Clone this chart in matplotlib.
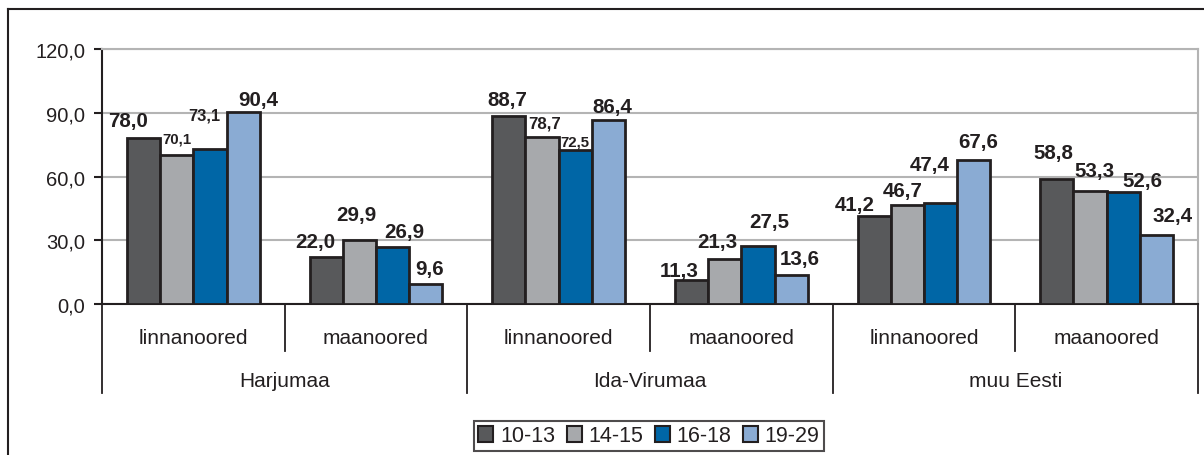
import matplotlib
matplotlib.use("Agg")
import matplotlib.pyplot as plt
from matplotlib.patches import Patch
from matplotlib.lines import Line2D
import matplotlib.transforms as mtransforms

plt.rcParams['font.family'] = ['Liberation Sans', 'DejaVu Sans']

# ---- data ----
regions = ["Harjumaa", "Ida-Virumaa", "muu Eesti"]
subgroups = ["linnanoored", "maanoored"]
series_names = ["10-13", "14-15", "16-18", "19-29"]
s_10_13 = [78.0, 22.0, 88.7, 11.3, 41.2, 58.8]
s_14_15 = [70.1, 29.9, 78.7, 21.3, 46.7, 53.3]
s_16_18 = [73.1, 26.9, 72.5, 27.5, 47.4, 52.6]
s_19_29 = [90.4, 9.6, 86.4, 13.6, 67.6, 32.4]
series = [s_10_13, s_14_15, s_16_18, s_19_29]
yticks = [0, 30, 60, 90, 120]

# ---- styling ----
colors = ["#58595b", "#a7a9ac", "#0066a6", "#8aabd3"]
edge = "#231f20"
# label offsets (pixels) relative to bar top centre, per group x series
label_dx = [[-15, 0, -6, 15], [-11, -3, 12, 3.5], [-1, 3, 0, 4],
            [-12, -7, 11.5, 9], [-19, -5, -11, 4], [-3, 4.5, 19, 16]]
label_dy = [[12, 13, 29, 7], [10, 20, 10, 9.6], [10.5, 9, 4, 8.5],
            [4, 12, 18.6, 11], [6, 9, 33, 13], [21, 15, 6, 14]]
big = 14.8
label_fs = [[big, 10.8, 11.8, big], [big] * 4, [big, 12.2, 10.8, big],
            [big] * 4, [big] * 4, [big] * 4]

W, H = 1204, 456
fig = plt.figure(figsize=(W / 100, H / 100), dpi=100)
L, R, T, B = 102, 1198, 50, 305
ax = fig.add_axes([L / W, 1 - B / H, (R - L) / W, (B - T) / H])

n = len(s_10_13)
bw = 0.182
for j, vals in enumerate(series):
    xs = [g + (j - 1.5) * bw for g in range(n)]
    ax.bar(xs, vals, width=bw, color=colors[j], edgecolor=edge,
           linewidth=2, zorder=3)
    for g in range(n):
        ax.annotate(f"{vals[g]:.1f}".replace(".", ","),
                    xy=(xs[g], vals[g]),
                    xytext=(label_dx[g][j], label_dy[g][j]),
                    textcoords="offset pixels", ha="center", va="baseline",
                    fontsize=label_fs[g][j], fontweight="bold",
                    color="#231f20", zorder=5)

ax.set_xlim(-0.5, n - 0.5)
ax.set_ylim(0, 120)
ax.set_yticks(yticks)
ax.set_yticklabels([f"{v:.1f}".replace(".", ",") for v in yticks],
                   fontsize=14.5, color="#231f20")
ax.tick_params(axis="y", length=6, width=1.5, color="#231f20", pad=6)
ax.set_xticks([])
ax.yaxis.grid(True, color="#b4b4b4", linewidth=1.5, zorder=0)
ax.set_axisbelow(True)
for s in ["top", "right"]:
    ax.spines[s].set_color("#b4b4b4")
    ax.spines[s].set_linewidth(1.5)
for s in ["left", "bottom"]:
    ax.spines[s].set_color("#231f20")
    ax.spines[s].set_linewidth(1.5)

# two-level category axis
trans = mtransforms.blended_transform_factory(ax.transData, ax.transAxes)
ah = B - T
inner_y = -(352 - B) / ah
outer_y = -(394 - B) / ah
for k in range(n + 1):
    x = k - 0.5
    yb = outer_y if k % 2 == 0 else inner_y
    ax.add_line(Line2D([x, x], [0, yb], transform=trans, color="#231f20",
                       linewidth=1.3, clip_on=False))
for g in range(n):
    ax.text(g, -(339 - B) / ah, subgroups[g % 2], transform=trans,
            ha="center", va="center", fontsize=15, color="#231f20")
for r, name in enumerate(regions):
    ax.text(2 * r + 0.5, -(382 - B) / ah, name, transform=trans,
            ha="center", va="center", fontsize=15, color="#231f20")

# outer chart frame
fig.add_artist(Line2D([8 / W, 8 / W], [1 - 10 / H, 0], transform=fig.transFigure,
                      color="#231f20", linewidth=1.5))
fig.add_artist(Line2D([8 / W, 1], [1 - 10 / H, 1 - 10 / H], transform=fig.transFigure,
                      color="#231f20", linewidth=1.5))

handles = [Patch(facecolor=c, edgecolor=edge, linewidth=1.5) for c in colors]
leg = fig.legend(handles, series_names, loc="center",
                 bbox_to_anchor=(649 / W, 1 - 437 / H), ncol=4, frameon=True,
                 fontsize=15.5, handlelength=0.7, handleheight=0.7,
                 handletextpad=0.3, columnspacing=0.55, borderpad=0.2,
                 fancybox=False, edgecolor="#231f20")
leg.get_frame().set_linewidth(1.5)
for t in leg.get_texts():
    t.set_color("#231f20")

fig.savefig("out.png", dpi=100, facecolor="white")
